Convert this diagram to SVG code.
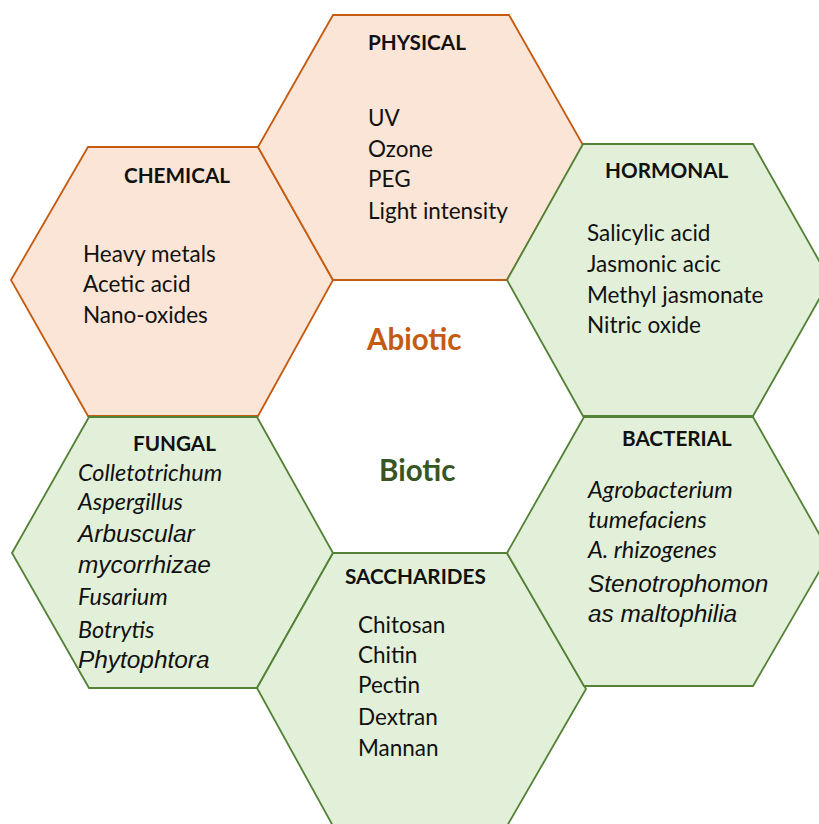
<svg xmlns="http://www.w3.org/2000/svg" width="819" height="824" viewBox="0 0 819 824">
<style>
.ab{fill:#FBE5D6;stroke:#C55A11;stroke-width:1.8;stroke-linejoin:miter}
.bi{fill:#E2F0D9;stroke:#538135;stroke-width:1.8;stroke-linejoin:miter}
.h{font-family:Lato,"Liberation Sans",sans-serif;font-weight:bold;font-size:20.7px;fill:#111}
.t{font-family:Lato,"Liberation Sans",sans-serif;font-size:22.5px;fill:#111}
.ti{font-family:Lato,"Liberation Sans",sans-serif;font-style:italic;font-size:23.5px;fill:#111}
.ta{font-family:"Liberation Sans",Arial,sans-serif;font-style:italic;font-size:24.4px;fill:#111}
.big{font-family:Lato,"Liberation Sans",sans-serif;font-weight:bold;font-size:29.5px}
</style>
<rect width="819" height="824" fill="#fff"/>
<g id="chemical">
<polygon class="ab" points="11,280 88,147 258,147 333,280 258,416 88,416"/>
<text class="h" x="124" y="183">CHEMICAL</text>
<text class="t" x="83" y="262">Heavy metals</text>
<text class="t" x="83" y="292">Acetic acid</text>
<text class="t" x="83" y="323">Nano-oxides</text>
</g>
<g id="physical">
<polygon class="ab" points="258,147 333,15 509,15 583,145 507,280 333,280"/>
<text class="h" x="368" y="50">PHYSICAL</text>
<text class="t" x="368" y="126">UV</text>
<text class="t" x="368" y="157">Ozone</text>
<text class="t" x="368" y="187">PEG</text>
<text class="t" x="368" y="219">Light intensity</text>
</g>
<g id="hormonal">
<polygon class="bi" points="507,280 583,144 753,144 830,280 753,416 583,416"/>
<text class="h" x="605" y="178">HORMONAL</text>
<text class="t" x="587" y="241">Salicylic acid</text>
<text class="t" x="587" y="272">Jasmonic acic</text>
<text class="t" x="587" y="303">Methyl jasmonate</text>
<text class="t" x="587" y="333">Nitric oxide</text>
</g>
<g id="fungal">
<polygon class="bi" points="12,553 89,417 257,417 333,553 257,688 89,688"/>
<text class="h" x="133" y="451">FUNGAL</text>
<text class="ti" x="78" y="481">Colletotrichum</text>
<text class="ti" x="78" y="510">Aspergillus</text>
<text class="ta" x="78" y="542">Arbuscular</text>
<text class="ta" x="78" y="573">mycorrhizae</text>
<text class="ti" x="78" y="605">Fusarium</text>
<text class="ti" x="78" y="638">Botrytis</text>
<text class="ta" x="78" y="668">Phytophtora</text>
</g>
<g id="saccharides">
<polygon class="bi" points="257,688 333,553 507,553 586,689 507,826 333,826"/>
<text class="h" x="345" y="584">SACCHARIDES</text>
<text class="t" x="358" y="633">Chitosan</text>
<text class="t" x="358" y="663">Chitin</text>
<text class="t" x="358" y="693">Pectin</text>
<text class="t" x="358" y="725">Dextran</text>
<text class="t" x="358" y="756">Mannan</text>
</g>
<g id="bacterial">
<polygon class="bi" points="507,553 584,417 753,417 830,553 753,686 584,686"/>
<text class="h" x="622" y="446">BACTERIAL</text>
<text class="ti" x="588" y="498">Agrobacterium</text>
<text class="ti" x="588" y="528">tumefaciens</text>
<text class="ti" x="588" y="558">A. rhizogenes</text>
<text class="ta" x="588" y="592">Stenotrophomon</text>
<text class="ta" x="588" y="622">as maltophilia</text>
</g>
<g id="labels">
<text class="big" x="367" y="350" fill="#C55A11">Abiotic</text>
<text class="big" x="379" y="481" fill="#375623">Biotic</text>
</g>
<g id="connectors"></g>
</svg>
